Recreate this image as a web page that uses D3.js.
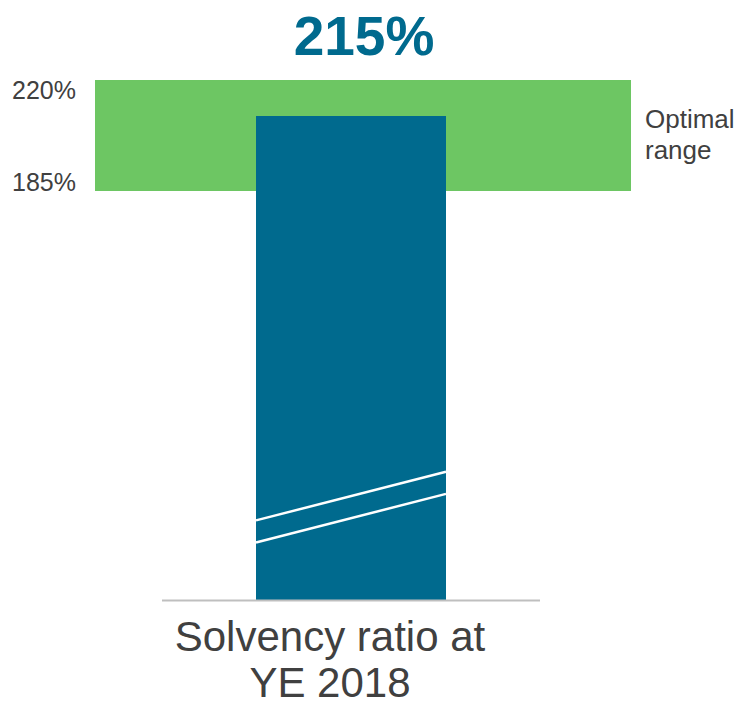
<!DOCTYPE html>
<html>
<head>
<meta charset="utf-8">
<script src="https://cdn.jsdelivr.net/npm/d3@7"></script>
<style>
  body { margin: 0; background: #fff; }
  text { font-family: "Liberation Sans", Arial, sans-serif; }
</style>
</head>
<body>
<svg id="chart"></svg>
<script>
// data
var categories = ["Solvency ratio at YE 2018"];
var categoryLines = [["Solvency ratio at", "YE 2018"]];
var values = [215];
var rangeBand = [185, 220];
var tickValues = [220, 185];
var bandLabel = ["Optimal", "range"];
// break marks, in axis units (lower, compressed part of the axis)
var breakMarks = [[36, 58], [26, 48]];

var width = 741, height = 705;
var blue = "#006a8e", green = "#6dc663", grey = "#404040";

var svg = d3.select("#chart")
    .attr("width", width)
    .attr("height", height);

// the axis is broken: below 185% it is squeezed
var y = d3.scaleLinear()
    .domain([0, 185, 215, 220])
    .range([600, 191, 116, 80]);

var x = d3.scaleBand()
    .domain(categories)
    .range([162, 540])
    .padding(0.331);

// optimal range band
svg.append("rect")
    .attr("x", 95)
    .attr("width", 536)
    .attr("y", y(rangeBand[1]))
    .attr("height", y(rangeBand[0]) - y(rangeBand[1]))
    .attr("fill", green);

// bar
svg.selectAll(".bar")
    .data(values)
  .enter().append("rect")
    .attr("class", "bar")
    .attr("x", function(d, i) { return x(categories[i]); })
    .attr("width", x.bandwidth())
    .attr("y", function(d) { return y(d); })
    .attr("height", function(d) { return y(0) - y(d); })
    .attr("fill", blue);

// break lines across the bar
svg.selectAll(".brk")
    .data(breakMarks)
  .enter().append("line")
    .attr("x1", x(categories[0]))
    .attr("x2", x(categories[0]) + x.bandwidth())
    .attr("y1", function(d) { return y(d[0]); })
    .attr("y2", function(d) { return y(d[1]); })
    .attr("stroke", "#fff")
    .attr("stroke-width", 2.5);

// baseline
svg.append("line")
    .attr("x1", 162).attr("x2", 540)
    .attr("y1", y(0) + 0.5).attr("y2", y(0) + 0.5)
    .attr("stroke", "#bfbfbf")
    .attr("stroke-width", 2);

// value label
svg.selectAll(".val")
    .data(values)
  .enter().append("text")
    .attr("x", 364)
    .attr("y", 55)
    .attr("text-anchor", "middle")
    .style("font-size", "55px")
    .style("font-weight", "bold")
    .attr("fill", blue)
    .text(function(d) { return d + "%"; });

// tick labels for the band
svg.selectAll(".tick")
    .data(tickValues)
  .enter().append("text")
    .attr("x", 76)
    .attr("y", function(d, i) { return i === 0 ? y(d) + 19 : y(d); })
    .attr("text-anchor", "end")
    .style("font-size", "25px")
    .attr("fill", grey)
    .text(function(d) { return d + "%"; });

// band label
svg.append("text")
    .attr("x", 645)
    .attr("y", 128)
    .style("font-size", "26px")
    .attr("fill", grey)
  .selectAll("tspan")
    .data(bandLabel)
  .enter().append("tspan")
    .attr("x", 645)
    .attr("dy", function(d, i) { return i === 0 ? 0 : 31; })
    .text(function(d) { return d; });

// category label
svg.append("text")
    .attr("x", 330)
    .attr("y", 651)
    .attr("text-anchor", "middle")
    .style("font-size", "42px")
    .attr("fill", grey)
  .selectAll("tspan")
    .data(categoryLines[0])
  .enter().append("tspan")
    .attr("x", 330)
    .attr("dy", function(d, i) { return i === 0 ? 0 : 46; })
    .text(function(d) { return d; });
</script>
</body>
</html>
